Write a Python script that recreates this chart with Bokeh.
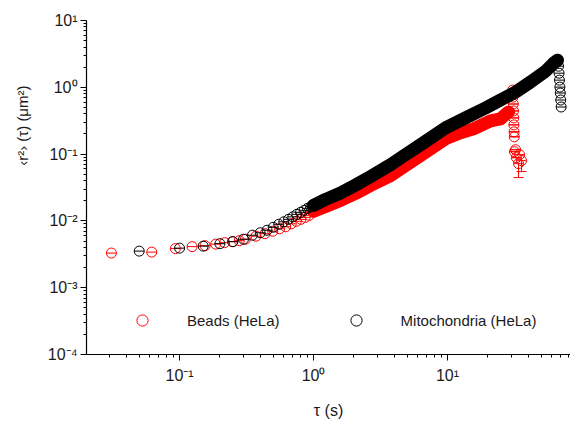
import numpy as np
from bokeh.plotting import figure
from bokeh.models import FixedTicker, CustomJSTickFormatter, Title, Legend, LegendItem
from bokeh.embed import file_html
from bokeh.resources import INLINE

# ---------------- data ----------------
# Beads (HeLa), red
beads_tau = [0.031, 0.062, 0.093, 0.124, 0.155, 0.186, 0.217, 0.248, 0.279, 0.31,
             0.372, 0.434, 0.496, 0.558, 0.62, 0.682, 0.744, 0.806, 0.868, 0.93,
             1.0, 1.23, 1.59, 2.06, 2.66, 3.76, 4.86, 6.62, 9.66, 12.5, 15.63, 20.94, 24.86, 28.52]
beads_msd = [0.0033, 0.00341, 0.00385, 0.00412, 0.00426, 0.00449, 0.00472, 0.00489, 0.00506, 0.00532,
             0.0059, 0.00643, 0.007, 0.00763, 0.00817, 0.00905, 0.00986, 0.01056, 0.0113, 0.01212,
             0.0139, 0.0165, 0.02025, 0.02575, 0.03387, 0.04771, 0.06721, 0.1014, 0.1695, 0.2083, 0.2388, 0.3141, 0.3363, 0.4275]
beads_tail_tau = [30.6, 30.8, 31.0, 31.1, 31.2, 31.3, 31.4, 31.5, 31.6, 32.7, 34.5, 35.7, 33.9, 32.2]
beads_tail_msd = [0.9086, 0.7147, 0.5623, 0.4424, 0.348, 0.2738, 0.2154, 0.1815, 0.1086, 0.0884, 0.098, 0.0798, 0.072, 0.1163]
beads_tail_low = [0.9086, 0.7147, 0.5623, 0.4424, 0.348, 0.2738, 0.2154, 0.1815, 0.1086, 0.0884, 0.098, 0.0547, 0.0445, 0.1163]

# Mitochondria (HeLa), black
mito_tau = [0.05, 0.10, 0.15, 0.20, 0.25, 0.30, 0.35, 0.40, 0.45, 0.50,
            0.55, 0.60, 0.65, 0.70, 0.75, 0.80, 0.85, 0.90, 0.95, 1.0,
            1.23, 1.59, 2.06, 2.66, 3.76, 4.86, 6.62, 9.66, 14.1, 19.21, 24.86, 32.18, 41.63, 53.87, 61.8, 66.2]
mito_msd = [0.00353, 0.00391, 0.00419, 0.00456, 0.00489, 0.00532, 0.00611, 0.00665, 0.00725, 0.00803,
            0.0089, 0.0097, 0.01056, 0.0115, 0.01254, 0.01343, 0.01438, 0.0154, 0.0162, 0.0171,
            0.021, 0.0262, 0.0345, 0.0461, 0.0696, 0.098, 0.148, 0.247, 0.36, 0.49, 0.645, 0.848, 1.2, 1.74, 2.29, 2.54]
mito_tail_tau = [67.5, 68.0, 68.5, 69.0, 69.5, 70.0, 70.5]
mito_tail_msd = [2.068, 1.627, 1.28, 1.007, 0.82, 0.645, 0.507]

x_major = [0.1, 1, 10]
x_minor = [m * 10.0 ** e for e in range(-2, 2) for m in range(2, 10) if 0.0205 < m * 10.0 ** e < 82]
y_major = [1e-4, 1e-3, 1e-2, 1e-1, 1, 10]
y_minor = [m * 10.0 ** e for e in range(-4, 1) for m in range(2, 10)]

RED = "#ff0000"
BLACK = "#000000"
FONT = "Liberation Sans"
MS = 10

p = figure(width=570, height=421, x_axis_type="log", y_axis_type="log",
           x_range=(0.0202, 82.8), y_range=(1e-4, 10),
           output_backend="svg", toolbar_location=None,
           min_border_left=86, min_border_right=0, min_border_top=20, min_border_bottom=65)
p.grid.visible = False
p.outline_line_color = None
p.background_fill_color = "white"

def draw(tau, msd, color, band_from, band_to):
    t = np.array(tau); m = np.array(msd)
    sel = (t >= band_from) & (t <= band_to)
    p.line(t[sel], m[sel], line_color=color, line_width=13, line_join="round", line_cap="round")
    r = p.scatter(t, m, marker="circle", size=MS, fill_color=None, line_color=color, line_width=1)
    p.scatter(t, m, marker="dash", size=MS, line_color=color, line_width=1)
    return r

# red beads
r_beads = draw(beads_tau, beads_msd, RED, 1.0, 28.6)
p.segment(beads_tail_tau, beads_tail_msd, beads_tail_tau, beads_tail_low, line_color=RED, line_width=1)
p.scatter(beads_tail_tau, beads_tail_low, marker="dash", size=MS, line_color=RED, line_width=1)
p.scatter(beads_tail_tau, beads_tail_msd, marker="circle", size=MS, fill_color=None, line_color=RED, line_width=1)
p.scatter(beads_tail_tau, beads_tail_msd, marker="dash", size=MS, line_color=RED, line_width=1)

# black mitochondria
r_mito = draw(mito_tau, mito_msd, BLACK, 1.0, 66.3)
p.scatter(mito_tail_tau, mito_tail_msd, marker="circle", size=MS, fill_color=None, line_color=BLACK, line_width=1)
p.scatter(mito_tail_tau, mito_tail_msd, marker="dash", size=MS, line_color=BLACK, line_width=1)

fmt = CustomJSTickFormatter(code="""
const e = Math.round(Math.log10(tick));
const sup = {'-': '\u207b', '0': '\u2070', '1': '\u00b9', '2': '\u00b2', '3': '\u00b3', '4': '\u2074'};
return '10' + String(e).split('').map(c => sup[c]).join('');
""")

for ax, maj, mnr in ((p.xaxis[0], x_major, x_minor), (p.yaxis[0], y_major, y_minor)):
    ax.ticker = FixedTicker(ticks=maj, minor_ticks=mnr)
    ax.formatter = fmt
    ax.axis_line_color = "black"
    ax.axis_line_width = 1.2
    ax.major_tick_line_color = "black"
    ax.minor_tick_line_color = "black"
    ax.major_tick_out = 6
    ax.major_tick_in = 0
    ax.minor_tick_out = 3
    ax.minor_tick_in = 0
    ax.major_label_text_font = FONT
    ax.major_label_text_font_size = "16px"
    ax.major_label_text_color = "#1a1a1a"

p.xaxis.major_label_standoff = 6
p.yaxis.major_label_standoff = 3

p.xaxis.axis_label = "τ (s)"
p.xaxis.axis_label_text_font = FONT
p.xaxis.axis_label_text_font_size = "16px"
p.xaxis.axis_label_text_font_style = "normal"
p.xaxis.axis_label_text_color = "#1a1a1a"
p.xaxis.axis_label_standoff = 15

# y-axis title as a side title, its upper end placed like in the reference
ytitle = Title(text="‹r²› (τ) (μm²)", align="right", offset=65, vertical_align="top",
               text_font=FONT, text_font_size="15px", text_font_style="normal",
               text_color="#1a1a1a", standoff=24)
p.add_layout(ytitle, "left")

legend = Legend(items=[LegendItem(label="Beads (HeLa)", renderers=[r_beads]),
                       LegendItem(label="Mitochondria (HeLa)", renderers=[r_mito])],
                orientation="horizontal", location=(42, 20),
                glyph_width=28, glyph_height=28, label_standoff=31, spacing=62,
                padding=0, margin=0, border_line_color=None, background_fill_alpha=0,
                label_text_font=FONT, label_text_font_size="15px", label_text_color="#1a1a1a")
p.add_layout(legend)

open("out.html", "w").write(file_html(p, INLINE))
